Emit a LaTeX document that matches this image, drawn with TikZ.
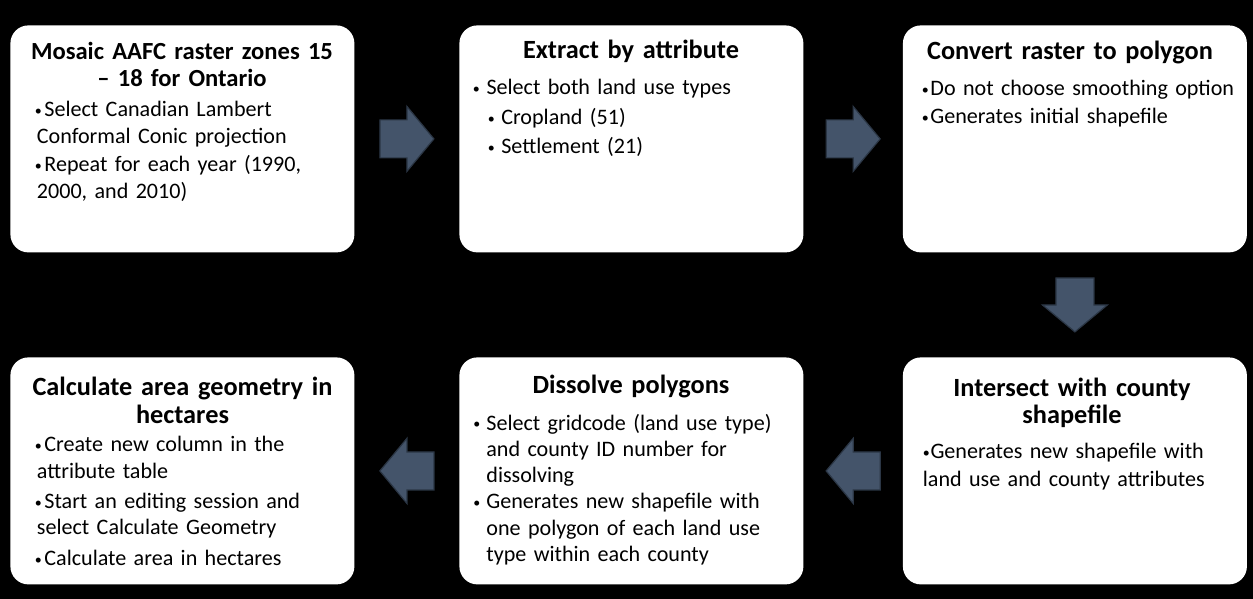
\documentclass[tikz,border=0pt]{standalone}
\usepackage{fontspec}
\setmainfont{Carlito}
\usetikzlibrary{calc}

\definecolor{arrowfill}{HTML}{44546A}
\definecolor{arrowline}{HTML}{2B3645}

\tikzset{
  procbox/.style={fill=white, rounded corners=9pt, minimum width=172pt,
    minimum height=113.5pt, anchor=north west, inner sep=0pt},
  boxtitle/.style={font=\bfseries\fontsize{13.15pt}{14pt}\selectfont,
    align=center, text width=170pt, anchor=base, inner sep=0pt},
  boxbody/.style={font=\fontsize{11.05pt}{13.75pt}\selectfont,
    align=left, text width=165pt, anchor=base west, inner sep=0pt},
  flowarrow/.style={fill=arrowfill, draw=arrowline, line width=0.6pt, line join=miter},
}

\newcommand\itm[1][4.25pt]{\makebox[#1][l]{\raisebox{0.6pt}{\fontsize{7pt}{7pt}\selectfont •}}}
\newcommand\blockarrow[2]{% centre, direction
  \filldraw[flowarrow, shift={(#1)}, rotate=#2]
    (-27,-19) -- (0,-19) -- (0,-32.5) -- (27,0) -- (0,32.5) -- (0,19) -- (-27,19) -- cycle ;}

\begin{document}
\begin{tikzpicture}[x=0.5pt, y=-0.5pt]

\fill[black] (0,0) rectangle (1253,599) ;
\useasboundingbox (0,0) rectangle (1253,599) ;

% boxes
\node[procbox] (mosaic) at (10,25) {} ;
\node[procbox] (extract) at (459,25) {} ;
\node[procbox] (convert) at (902.5,25) {} ;
\node[procbox] (calcarea) at (10,357) {} ;
\node[procbox] (dissolve) at (459,357) {} ;
\node[procbox] (intersect) at (902.5,357) {} ;

% top row
\node[boxtitle, font=\bfseries\fontsize{12.3pt}{13.7pt}\selectfont] (mosaic-t) at (182,59.3)
  {Mosaic AAFC raster zones 15\\– 18 for Ontario} ;
\node[boxbody, font=\fontsize{11.05pt}{13.65pt}\selectfont] (mosaic-b) at (34.5,116.7)
  {\itm[4.75pt]Select Canadian Lambert\\
   \hspace*{1pt}Conformal Conic projection\\
   \itm[4.75pt]Repeat for each year (1990,\\
   \hspace*{1pt}2000, and 2010)} ;

\node[boxtitle] (extract-t) at (631,59) {Extract by attribute} ;
\node[boxbody, font=\fontsize{11.05pt}{14.75pt}\selectfont] (extract-b) at (472.5,95)
  {\itm[6.8pt]Select both land use types\\
   \hspace*{7.5pt}\itm[6.7pt]Cropland (51)\\
   \hspace*{7.5pt}\itm[6.7pt]Settlement (21)} ;

\node[boxtitle] (convert-t) at (1070,59.5) {Convert raster to polygon} ;
\node[boxbody] (convert-b) at (921.5,96)
  {\itm Do not choose smoothing option\\
   \itm Generates initial shapefile} ;

% bottom row
\node[boxtitle] (calcarea-t) at (182.5,395) {Calculate area geometry in\\hectares} ;
\node[boxbody, font=\fontsize{11.05pt}{13.2pt}\selectfont] (calcarea-b) at (34.5,451.7)
  {\itm[4.75pt]Create new column in the\\
   \hspace*{1pt}attribute table\\[2pt]
   \itm[4.75pt]Start an editing session and\\
   \hspace*{1pt}select Calculate Geometry\\[2pt]
   \itm[4.75pt]Calculate area in hectares} ;

\node[boxtitle] (dissolve-t) at (631,393) {Dissolve polygons} ;
\node[boxbody, font=\fontsize{11.05pt}{13.15pt}\selectfont] (dissolve-b) at (473,430)
  {\itm[6.5pt]Select gridcode (land use type)\\
   \hspace*{6.5pt}and county ID number for\\
   \hspace*{6.5pt}dissolving\\
   \itm[6.5pt]Generates new shapefile with\\
   \hspace*{6.5pt}one polygon of each land use\\
   \hspace*{6.5pt}type within each county} ;

\node[boxtitle, font=\bfseries\fontsize{13.15pt}{13.3pt}\selectfont] (intersect-t) at (1072,396.7)
  {Intersect with county\\shapefile} ;
\node[boxbody, font=\fontsize{11.05pt}{14.2pt}\selectfont] (intersect-b) at (922.5,458.3)
  {\itm[3.8pt]Generates new shapefile with\\
   land use and county attributes} ;

% block arrows
\coordinate (a12) at ($(mosaic.east)!.5!(extract.west)$) ;
\coordinate (a23) at ($(extract.east)!.5!(convert.west)$) ;
\coordinate (a36) at ($(convert.south)!.5!(intersect.north)$) ;
\coordinate (a65) at ($(dissolve.east)!.5!(intersect.west)$) ;
\coordinate (a54) at ($(calcarea.east)!.5!(dissolve.west)$) ;
\blockarrow{a12}{0}
\blockarrow{a23}{0}
\blockarrow{a36}{-90}
\blockarrow{a65}{180}
\blockarrow{a54}{180}

\end{tikzpicture}
\end{document}
